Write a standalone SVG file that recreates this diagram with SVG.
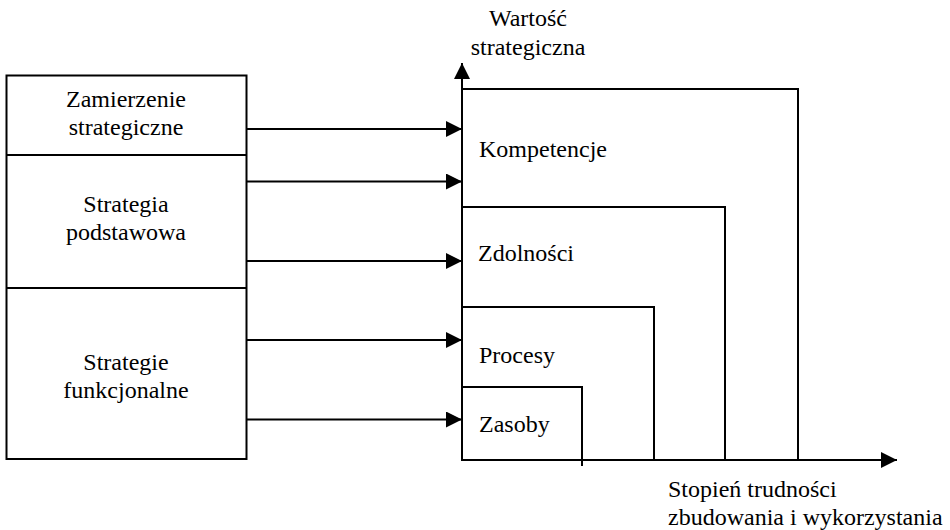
<svg xmlns="http://www.w3.org/2000/svg" width="950" height="530" viewBox="0 0 950 530">
<defs>
<style>
.l{fill:none;stroke:#000;stroke-width:2}
</style>
<marker id="ah" markerWidth="16" markerHeight="16" viewBox="0 0 16 16" refX="16" refY="8" orient="auto" markerUnits="userSpaceOnUse">
<path d="M0,0 L16,8 L0,16 Z" fill="#000"/>
</marker>
</defs>
<rect width="950" height="530" fill="#fff"/>
<g font-family="Liberation Serif, Times New Roman, DejaVu Serif, serif" font-size="24" fill="#000">
<g id="left-box">
<rect class="l" x="6.5" y="75.5" width="240" height="383.5"/>
<line class="l" x1="6.5" y1="155" x2="246.5" y2="155"/>
<line class="l" x1="6.5" y1="288" x2="246.5" y2="288"/>
</g>
<g id="zamierzenie" text-anchor="middle"><text x="126" y="107">Zamierzenie</text><text x="126" y="135">strategiczne</text></g>
<g id="strategia" text-anchor="middle"><text x="126" y="212">Strategia</text><text x="126" y="240">podstawowa</text></g>
<g id="strategie" text-anchor="middle"><text x="126" y="370">Strategie</text><text x="126" y="398">funkcjonalne</text></g>
<g id="axes">
<line class="l" x1="462" y1="460" x2="462" y2="63" marker-end="url(#ah)"/>
<line class="l" x1="461" y1="460" x2="897" y2="460" marker-end="url(#ah)"/>
<text x="528" y="26" text-anchor="middle">Wartość</text>
<text x="528" y="55" text-anchor="middle">strategiczna</text>
<text x="668" y="497">Stopień trudności</text>
<text x="668" y="525">zbudowania i wykorzystania</text>
</g>
<g id="kompetencje"><polyline class="l" points="462,89 798,89 798,460"/><text x="479" y="157">Kompetencje</text></g>
<g id="zdolnosci"><polyline class="l" points="462,207 725,207 725,460"/><text x="478" y="261">Zdolności</text></g>
<g id="procesy"><polyline class="l" points="462,307 654,307 654,460"/><text x="479" y="363">Procesy</text></g>
<g id="zasoby"><polyline class="l" points="462,387 582,387 582,466"/><text x="479" y="432">Zasoby</text></g>
<g id="connectors">
<line class="l" x1="247" y1="129" x2="462" y2="129" marker-end="url(#ah)"/>
<line class="l" x1="247" y1="181.5" x2="462" y2="181.5" marker-end="url(#ah)"/>
<line class="l" x1="247" y1="261" x2="462" y2="261" marker-end="url(#ah)"/>
<line class="l" x1="247" y1="340" x2="462" y2="340" marker-end="url(#ah)"/>
<line class="l" x1="247" y1="419.5" x2="462" y2="419.5" marker-end="url(#ah)"/>
</g>
</g>
</svg>
